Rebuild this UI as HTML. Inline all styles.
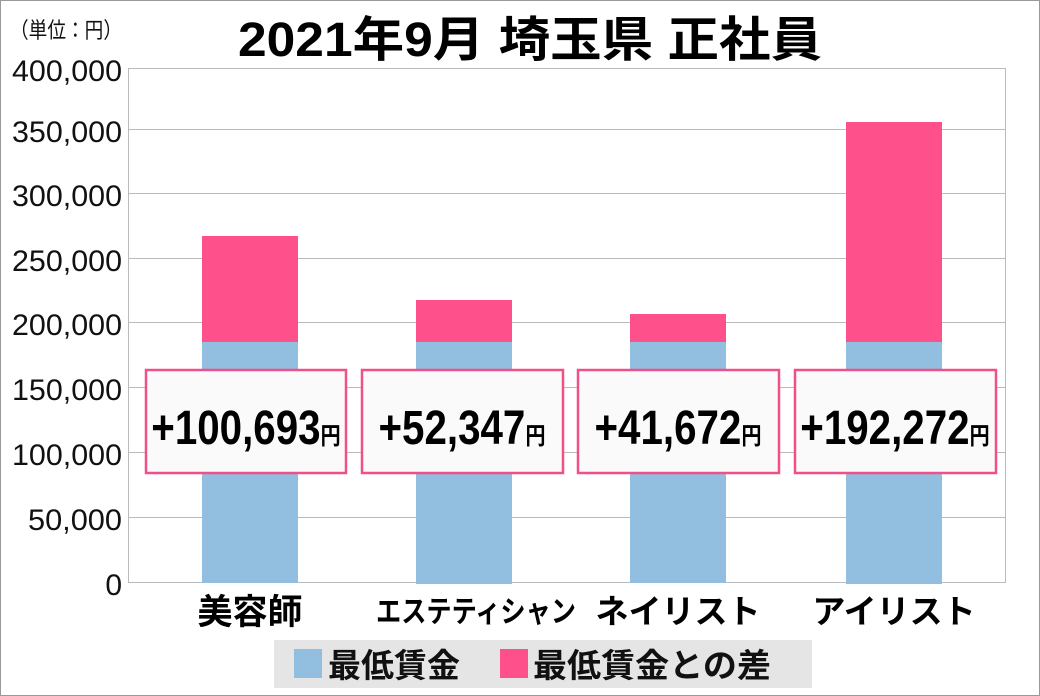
<!DOCTYPE html>
<html><head><meta charset="utf-8"><style>
html,body{margin:0;padding:0;background:#fff}
svg{display:block}
text{font-family:"Liberation Sans","Noto Sans CJK JP",sans-serif}
</style></head><body>
<svg width="1040" height="696" xmlns="http://www.w3.org/2000/svg">
<rect x="0.5" y="0.5" width="1039" height="695" fill="#fff" stroke="#999"/>
<text x="10" y="38" font-size="22" fill="#111" textLength="112" lengthAdjust="spacingAndGlyphs">（単位：円）</text>
<text x="530" y="56" font-size="48" font-weight="bold" text-anchor="middle" fill="#000" textLength="584" lengthAdjust="spacingAndGlyphs">2021年9月 埼玉県 正社員</text>
<g stroke="#bbb" stroke-width="1">
<line x1="128" y1="68.5" x2="1006" y2="68.5"/>
<line x1="128" y1="129.5" x2="1006" y2="129.5"/>
<line x1="128" y1="193.5" x2="1006" y2="193.5"/>
<line x1="128" y1="258.5" x2="1006" y2="258.5"/>
<line x1="128" y1="322.5" x2="1006" y2="322.5"/>
<line x1="128" y1="387.5" x2="1006" y2="387.5"/>
<line x1="128" y1="452.5" x2="1006" y2="452.5"/>
<line x1="128" y1="517.5" x2="1006" y2="517.5"/>
<line x1="128" y1="582.5" x2="1006" y2="582.5"/>
<line x1="128.5" y1="68" x2="128.5" y2="583"/>
<line x1="1005.5" y1="68" x2="1005.5" y2="583"/>
</g>
<g font-size="30" text-anchor="end" fill="#111">
<text x="122" y="81" textLength="110" lengthAdjust="spacingAndGlyphs">400,000</text>
<text x="122" y="142" textLength="110" lengthAdjust="spacingAndGlyphs">350,000</text>
<text x="122" y="206" textLength="110" lengthAdjust="spacingAndGlyphs">300,000</text>
<text x="122" y="271" textLength="110" lengthAdjust="spacingAndGlyphs">250,000</text>
<text x="122" y="335" textLength="110" lengthAdjust="spacingAndGlyphs">200,000</text>
<text x="122" y="400" textLength="110" lengthAdjust="spacingAndGlyphs">150,000</text>
<text x="122" y="465" textLength="110" lengthAdjust="spacingAndGlyphs">100,000</text>
<text x="122" y="530" textLength="94" lengthAdjust="spacingAndGlyphs">50,000</text>
<text x="122" y="595">0</text>
</g>
<g fill="#92bedf">
<rect x="202" y="342" width="96" height="241"/>
<rect x="416" y="342" width="96" height="242"/>
<rect x="630" y="342" width="96" height="241"/>
<rect x="846" y="342" width="96" height="242"/>
</g>
<g fill="#fe508a">
<rect x="202" y="236" width="96" height="106"/>
<rect x="416" y="300" width="96" height="42"/>
<rect x="630" y="314" width="96" height="28"/>
<rect x="846" y="122" width="96" height="220"/>
</g>
<g fill="#fafafa" stroke="#f0508a" stroke-width="2.5">
<rect x="146" y="370" width="200" height="103"/>
<rect x="362" y="370" width="201" height="103"/>
<rect x="578" y="370" width="201" height="103"/>
<rect x="795" y="370" width="201" height="103"/>
</g>
<g font-weight="bold" fill="#000" text-anchor="middle">
<text x="246" y="444" font-size="48" transform="translate(246 0) scale(0.84 1) translate(-246 0)">+100,693<tspan font-size="24">円</tspan></text>
<text x="462" y="444" font-size="48" transform="translate(462 0) scale(0.84 1) translate(-462 0)">+52,347<tspan font-size="24">円</tspan></text>
<text x="678" y="444" font-size="48" transform="translate(678 0) scale(0.84 1) translate(-678 0)">+41,672<tspan font-size="24">円</tspan></text>
<text x="895" y="444" font-size="48" transform="translate(895 0) scale(0.84 1) translate(-895 0)">+192,272<tspan font-size="24">円</tspan></text>
</g>
<g font-weight="bold" fill="#000" text-anchor="middle">
<text x="250" y="624" font-size="35">美容師</text>
<text x="476" y="622" font-size="30" textLength="200" lengthAdjust="spacingAndGlyphs">エステティシャン</text>
<text x="678" y="623" font-size="33">ネイリスト</text>
<text x="894" y="623" font-size="33">アイリスト</text>
</g>
<rect x="274" y="640" width="538" height="48" fill="#e6e5e6"/>
<rect x="294" y="649" width="28" height="29" fill="#92bedf"/>
<rect x="500" y="649" width="28" height="29" fill="#fe508a"/>
<g font-size="33" font-weight="bold" fill="#111">
<text x="328" y="677">最低賃金</text>
<text x="533" y="677" textLength="238" lengthAdjust="spacingAndGlyphs">最低賃金との差</text>
</g>
</svg>
</body></html>
